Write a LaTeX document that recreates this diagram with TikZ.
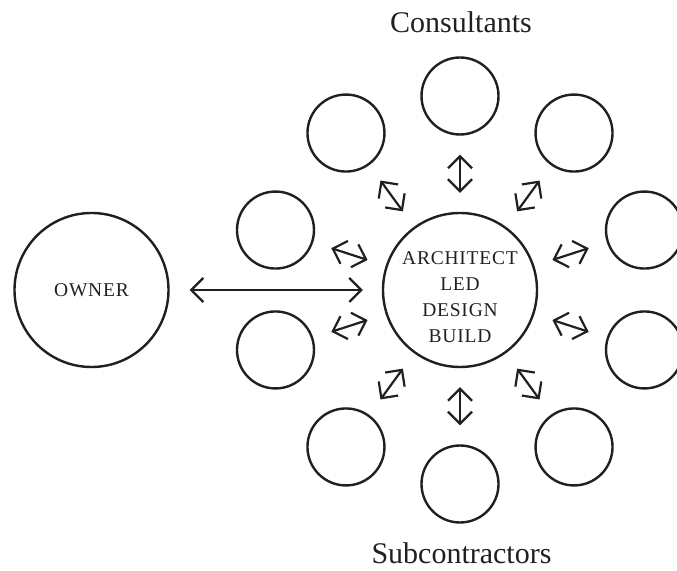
\documentclass[tikz,border=0pt]{standalone}
\usepackage{fontspec}
\setmainfont{Liberation Serif}
\usetikzlibrary{arrows.meta,calc}
\definecolor{ink}{HTML}{231F20}
\begin{document}
\begin{tikzpicture}[x=1pt,y=1pt,
  ring/.style={circle,draw=ink,line width=2.4pt,inner sep=0pt},
  small/.style={ring,minimum size=77pt},
  big/.style={ring,minimum size=154pt},
  barb/.tip={Straight Barb[length=12pt,width=24pt,line width=2.2pt]},
  link/.style={draw=ink,line width=2.2pt,barb-barb,
    shorten <=19pt,shorten >=19pt},
  inner/.style={text=ink,font=\fontsize{19.5}{26}\selectfont\addfontfeatures{LetterSpace=4},align=center},
  head/.style={text=ink,font=\fontsize{30}{36}\selectfont,anchor=base,inner sep=0pt}]
\useasboundingbox (0,0) rectangle (677,570);
\node[big] (C) at (460,280) {};
\node[inner] (ctext) at (460,272.5) {ARCHITECT\\LED\\DESIGN\\BUILD};
\node[big,inner] (O) at (91.5,280) {OWNER};
\foreach \i/\a in {1/90,2/54,3/18,4/-18,5/-54,6/-90,7/-126,8/-162,9/162,10/126}{
  \node[small] (S\i) at ($(C)+(\a:194)$) {};
  \draw[link] (C) -- (S\i);
}
\draw[link,shorten <=20pt,shorten >=19pt] (O) -- (C);
\node[head] (cons) at (461,537) {Consultants};
\node[head] (subs) at (461.5,6) {Subcontractors};
\end{tikzpicture}
\end{document}
